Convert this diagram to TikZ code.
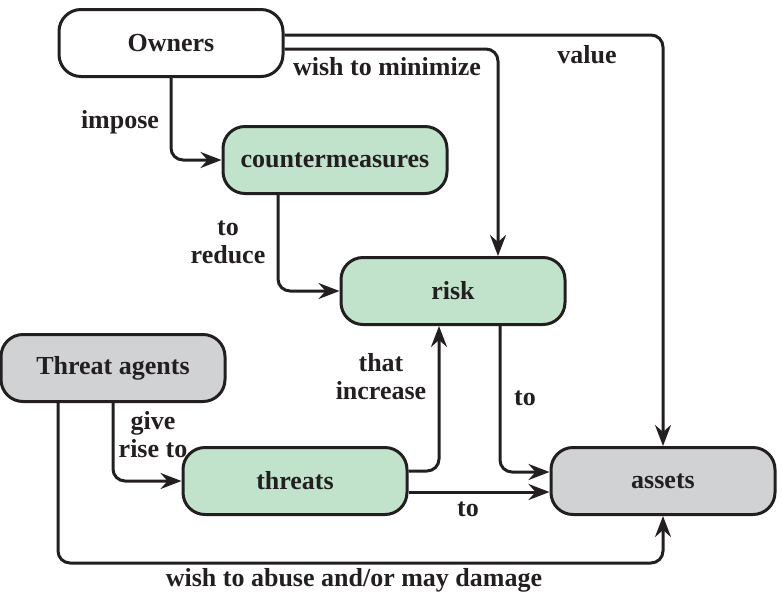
\documentclass[tikz,border=0pt]{standalone}
\usepackage{fontspec}
\setmainfont{Liberation Serif}
\usetikzlibrary{arrows.meta}
\usetikzlibrary{positioning}
\definecolor{ctrlgreen}{HTML}{C1E3CB}
\definecolor{extgray}{HTML}{D1D2D4}
\definecolor{ink}{HTML}{231F20}
\tikzset {
  diag node/.style = {
    draw = ink,
    line width = 1.5pt,
    rounded corners = 11pt,
    minimum width = 112pt,
    minimum height = 33.5pt,
    inner sep = 0,
    text = ink,
    font = \fontsize{13}{14}\selectfont\bfseries
  },
  % party node (white)
  party/.style = {
    diag node,
    fill = white
  },
  % control node (green)
  ctrl/.style = {
    diag node,
    fill = ctrlgreen
  },
  % external node (gray)
  ext/.style = {
    diag node,
    fill = extgray
  }
}
\tikzset {
  % path style with an arrow at its end
  arr/.style = {
    draw = ink,
    line width = 1.5pt,
    rounded corners = 6pt,
    -{Stealth[length=10.5pt,width=8pt,inset=3.5pt]}
  },
  % edge label
  lbl/.style = {
    text = ink,
    align = center,
    inner sep = 0,
    font = \fontsize{13}{14}\selectfont\bfseries
  }
}
\begin{document}
\begin{tikzpicture}[x=0.5pt,y=-0.5pt]
    \useasboundingbox (0,0) rectangle (782,602);

    \node[party] (owners) at (171,43) {Owners};
    \node[ctrl] (counter) at (335,160) {countermeasures};
    \node[ctrl] (risk) at (453,291) {risk};
    \node[ext] (agents) at (113,368) {Threat agents};
    \node[ctrl] (threats) at (295,481) {threats};
    \node[ext] (assets) at (663,481) {assets};

    \node[lbl] (impose) at (120,122) {impose};
    \node[lbl] (minimize) at (387,67) {wish to minimize};
    \node[lbl] (value) at (587,55) {value};
    \node[lbl] (reduce) at (228,242) {to\\reduce};
    \node[lbl] (increase) at (381,377) {that\\increase};
    \node[lbl] (risk-to) at (525,398) {to};
    \node[lbl] (rise) at (153,435) {give\\rise to};
    \node[lbl] (threats-to) at (468,509) {to};
    \node[lbl] (abuse) at (354,580) {wish to abuse and/or may damage};

    \draw[arr] (owners.south) |- (counter.west);
    \draw[arr] ([yshift=-3pt]owners.east) -| ([xshift=22.5pt]risk.north);
    \draw[arr] ([yshift=4pt]owners.east) -| (assets.north);
    \draw[arr] ([xshift=-28.5pt]counter.south) |- (risk.west);

    \draw[arr] (agents.south) |- (threats.west);
    \draw[arr] ([xshift=-27.5pt]agents.south) -- ++(0,160) -| (assets.south);
    \draw[arr] ([yshift=5pt]threats.east) -| ([xshift=-7pt]risk.south);
    \draw[arr] ([xshift=23.5pt]risk.south) |- ([yshift=4.5pt]assets.west);
    \draw[arr] ([yshift=-5.5pt]threats.east) -- ([yshift=-5.5pt]assets.west);
  \end{tikzpicture}
\end{document}
